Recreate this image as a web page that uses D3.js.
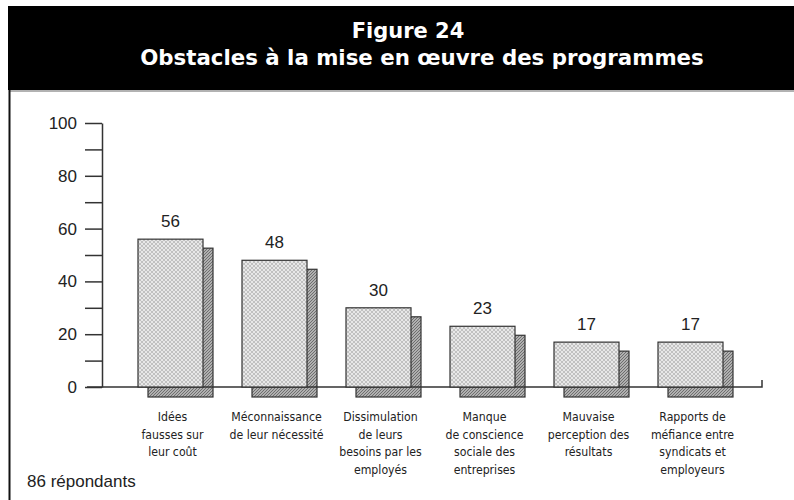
<!DOCTYPE html>
<html>
<head>
<meta charset="utf-8">
<script src="https://cdn.jsdelivr.net/npm/d3@7"></script>
<style>
  body { margin: 0; background: #fff; }
  svg { display: block; }
  .tick text { font-family: "Liberation Sans", Arial, sans-serif; font-size: 17px; fill: #222; }
  .tick line, .domain { stroke: #333; stroke-width: 1.5; }
</style>
</head>
<body>
<div id="chart"></div>
<script>
var svgWidth = 794;
var svgHeight = 500;

// data
var categories = [
  ["Idées", "fausses sur", "leur coût"],
  ["Méconnaissance", "de leur nécessité"],
  ["Dissimulation", "de leurs", "besoins par les", "employés"],
  ["Manque", "de conscience", "sociale des", "entreprises"],
  ["Mauvaise", "perception des", "résultats"],
  ["Rapports de", "méfiance entre", "syndicats et", "employeurs"]
];
var values = [56, 48, 30, 23, 17, 17];
var yTicks = [0, 10, 20, 30, 40, 50, 60, 70, 80, 90, 100];
var titleLines = ["Figure 24", "Obstacles à la mise en œuvre des programmes"];
var note = "86 répondants";

var svg = d3.select("#chart")
  .append("svg")
  .attr("width", svgWidth)
  .attr("height", svgHeight);

// hatch patterns
var defs = svg.append("defs");
var light = defs.append("pattern")
  .attr("id", "lightHatch")
  .attr("patternUnits", "userSpaceOnUse")
  .attr("width", 4).attr("height", 4);
light.append("rect").attr("width", 4).attr("height", 4).attr("fill", "#e8e8e8");
light.append("path").attr("d", "M0,4 L4,0 M0,0 L4,4")
  .attr("stroke", "#b0b0b0").attr("stroke-width", 0.7);

var dark = defs.append("pattern")
  .attr("id", "darkHatch")
  .attr("patternUnits", "userSpaceOnUse")
  .attr("width", 3).attr("height", 3);
dark.append("rect").attr("width", 3).attr("height", 3).attr("fill", "#b0b0b0");
dark.append("path").attr("d", "M0,3 L3,0")
  .attr("stroke", "#666").attr("stroke-width", 0.9);

// header
svg.append("rect")
  .attr("x", 8).attr("y", 6)
  .attr("width", svgWidth - 8).attr("height", 84)
  .attr("fill", "#000");
svg.append("line")
  .attr("x1", 9).attr("x2", svgWidth)
  .attr("y1", 91).attr("y2", 91)
  .attr("stroke", "#999").attr("stroke-width", 1.5);
svg.append("line")
  .attr("x1", 9.5).attr("x2", 9.5)
  .attr("y1", 90).attr("y2", svgHeight)
  .attr("stroke", "#111").attr("stroke-width", 2);

svg.append("text")
  .attr("x", 408).attr("y", 38)
  .attr("text-anchor", "middle")
  .attr("fill", "#fff")
  .style("font-family", "DejaVu Sans, sans-serif")
  .style("font-weight", "bold")
  .style("font-size", "21px")
  .text(titleLines[0]);
svg.append("text")
  .attr("x", 422).attr("y", 65)
  .attr("text-anchor", "middle")
  .attr("fill", "#fff")
  .style("font-family", "DejaVu Sans, sans-serif")
  .style("font-weight", "bold")
  .style("font-size", "21.3px")
  .text(titleLines[1]);

// scales
var x = d3.scaleBand()
  .domain(d3.range(categories.length))
  .range([118.5, 742.5])
  .paddingInner(0.375)
  .paddingOuter(0.1875);

var y = d3.scaleLinear()
  .domain([0, 100])
  .range([387, 123]);

var shadowDx = 10, shadowDy = 9, shadowBelow = 10;

// shadows
svg.selectAll(".shadow")
  .data(values)
  .enter()
  .append("rect")
  .attr("class", "shadow")
  .attr("x", (d, i) => x(i) + shadowDx)
  .attr("y", d => y(d) + shadowDy)
  .attr("width", x.bandwidth())
  .attr("height", d => y(0) - y(d) - shadowDy + shadowBelow)
  .attr("fill", "url(#darkHatch)")
  .attr("stroke", "#333")
  .attr("stroke-width", 1.2);

// baseline with hook at the right
svg.append("path")
  .attr("d", `M87,${y(0)} H762 V${y(0) - 7}`)
  .attr("fill", "none")
  .attr("stroke", "#333")
  .attr("stroke-width", 1.5);

// front bars
svg.selectAll(".bar")
  .data(values)
  .enter()
  .append("rect")
  .attr("class", "bar")
  .attr("x", (d, i) => x(i))
  .attr("y", d => y(d))
  .attr("width", x.bandwidth())
  .attr("height", d => y(0) - y(d))
  .attr("fill", "url(#lightHatch)")
  .attr("stroke", "#333")
  .attr("stroke-width", 1.2);

// value labels
svg.selectAll(".val")
  .data(values)
  .enter()
  .append("text")
  .attr("class", "val")
  .attr("x", (d, i) => x(i) + x.bandwidth() / 2)
  .attr("y", d => y(d) - 12)
  .attr("text-anchor", "middle")
  .style("font-family", "Liberation Sans, Arial, sans-serif")
  .style("font-size", "17px")
  .attr("fill", "#222")
  .text(d => d);

// y axis
var leftAxis = d3.axisLeft(y)
  .tickValues(yTicks)
  .tickSize(17)
  .tickSizeOuter(0)
  .tickPadding(8)
  .tickFormat(d => d % 20 === 0 ? d : "");

svg.append("g")
  .attr("transform", "translate(102,0)")
  .call(leftAxis);

// category labels
var catGroups = svg.selectAll(".cat")
  .data(categories)
  .enter()
  .append("text")
  .attr("class", "cat")
  .attr("text-anchor", "middle")
  .style("font-family", "Liberation Sans Narrow, DejaVu Sans Condensed, Arial Narrow, sans-serif")
  .style("font-size", "12.2px")
  .attr("fill", "#222");

catGroups.selectAll("tspan")
  .data((d, i) => d.map(line => ({ line: line, i: i })))
  .enter()
  .append("tspan")
  .attr("x", d => x(d.i) + x.bandwidth() / 2 + 2)
  .attr("y", (d, j) => 421 + j * 17.5)
  .text(d => d.line);

// note
svg.append("text")
  .attr("x", 27).attr("y", 487)
  .style("font-family", "Liberation Sans, Arial, sans-serif")
  .style("font-size", "17px")
  .attr("fill", "#222")
  .text(note);
</script>
</body>
</html>
